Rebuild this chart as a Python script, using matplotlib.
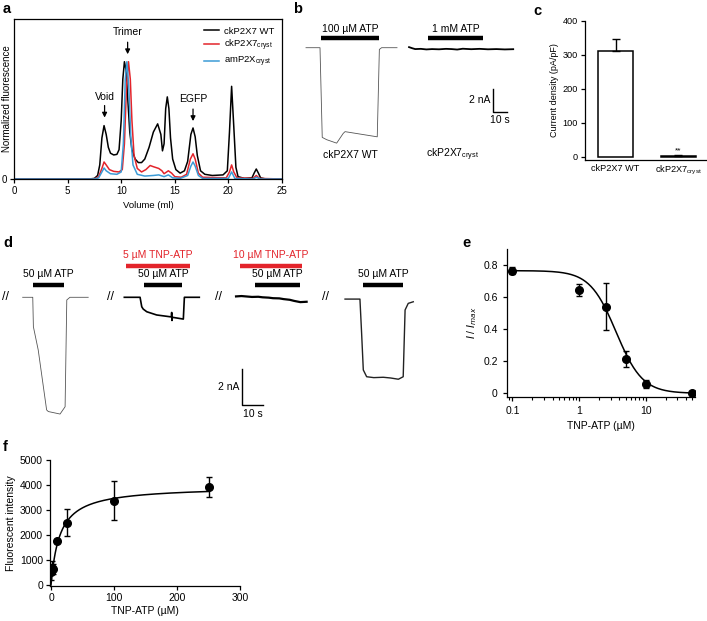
import numpy as np
import matplotlib
matplotlib.use('Agg')
from matplotlib import pyplot as plt

plt.rcParams['font.family'] = ['Liberation Sans', 'DejaVu Sans']
plt.rcParams['font.size'] = 7.5
plt.rcParams['axes.linewidth'] = 0.9
plt.rcParams['xtick.major.width'] = 0.9
plt.rcParams['ytick.major.width'] = 0.9
plt.rcParams['xtick.major.size'] = 3
plt.rcParams['ytick.major.size'] = 3
plt.rcParams['mathtext.default'] = 'regular'

RED = '#e3242b'
BLUE = '#3c9bd6'
MU = '\u00b5'

# ---- a: size exclusion profiles (volume in ml, normalized fluorescence)
wt_vol = [0, 7.0, 7.5, 7.8, 8.0, 8.2, 8.4, 8.6, 8.8, 9.0, 9.3, 9.6, 9.8, 10.0, 10.15, 10.3,
          10.45, 10.6, 10.8, 11.0, 11.3, 11.6, 11.9, 12.2, 12.6, 13.0, 13.4, 13.7, 13.85,
          14.0, 14.15, 14.3, 14.45, 14.6, 14.8, 15.1, 15.5, 15.9, 16.2, 16.5, 16.7, 16.9,
          17.1, 17.4, 17.8, 18.5, 19.5, 19.9, 20.1, 20.3, 20.5, 20.7, 20.9, 21.5, 22.2,
          22.4, 22.6, 22.8, 23.0, 23.5, 25]
wt_val = [0, 0, 0.005, 0.03, 0.12, 0.35, 0.455, 0.38, 0.27, 0.22, 0.205, 0.21, 0.25, 0.5,
          0.85, 1.0, 0.93, 0.7, 0.4, 0.25, 0.17, 0.14, 0.14, 0.17, 0.27, 0.4, 0.47, 0.38,
          0.24, 0.3, 0.6, 0.70, 0.6, 0.35, 0.17, 0.08, 0.05, 0.07, 0.15, 0.38, 0.435, 0.36,
          0.2, 0.07, 0.04, 0.03, 0.035, 0.07, 0.4, 0.79, 0.45, 0.1, 0.02, 0.005, 0.01,
          0.05, 0.085, 0.05, 0.01, 0, 0]
ck_vol = [0, 7.5, 7.9, 8.2, 8.4, 8.6, 8.9, 9.3, 9.8, 10.1, 10.3, 10.5, 10.68, 10.85, 11.0,
          11.2, 11.5, 11.9, 12.3, 12.7, 13.0, 13.5, 13.8, 14.0, 14.4, 14.7, 15.0, 15.6,
          16.1, 16.45, 16.7, 16.9, 17.2, 17.6, 19.8, 20.1, 20.3, 20.5, 20.8, 22.3, 22.6,
          22.9, 25]
ck_val = [0, 0, 0.02, 0.09, 0.145, 0.12, 0.08, 0.065, 0.06, 0.08, 0.3, 0.8, 1.0, 0.85,
          0.5, 0.2, 0.09, 0.06, 0.08, 0.115, 0.105, 0.09, 0.07, 0.045, 0.07, 0.05, 0.02,
          0.015, 0.04, 0.17, 0.215, 0.17, 0.05, 0.015, 0.01, 0.06, 0.12, 0.06, 0.01, 0.005,
          0.03, 0.005, 0]
am_vol = [0, 7.5, 7.9, 8.2, 8.4, 8.6, 9.0, 9.6, 10.0, 10.2, 10.38, 10.53, 10.7, 10.9,
          11.1, 11.5, 12.2, 13.0, 13.5, 14.0, 14.4, 14.8, 15.5, 16.2, 16.5, 16.7, 16.9,
          17.2, 17.6, 20.0, 20.3, 20.6, 22.3, 22.6, 23.0, 25]
am_val = [0, 0, 0.01, 0.06, 0.094, 0.07, 0.045, 0.04, 0.06, 0.3, 0.85, 1.0, 0.8, 0.35,
          0.12, 0.04, 0.025, 0.03, 0.035, 0.02, 0.035, 0.01, 0.005, 0.03, 0.11, 0.145,
          0.11, 0.03, 0.005, 0.005, 0.06, 0.005, 0.0, 0.015, 0, 0]

# ---- b: currents (time in s, current in nA)
b_wt_t = [0, 10.0, 11.6, 14.8, 21.9, 26.6, 27.9, 50.9, 52.4, 54.0, 65.0]
b_wt_i = [0, 0, -7.8, -8.0, -8.3, -7.45, -7.3, -7.75, -0.15, 0, 0]
b_cr_t = [73.6, 76, 78, 82, 86, 90, 95, 100, 104, 108, 112, 118, 124, 130, 136, 142, 148]
b_cr_i = [0.05, -0.05, -0.12, -0.1, -0.15, -0.12, -0.14, -0.1, -0.12, -0.16, -0.09,
          -0.13, -0.1, -0.14, -0.12, -0.15, -0.13]

# ---- c: current density (pA/pF)
c_names = ['ckP2X7 WT', 'ckP2X7$_{cryst}$']
c_mean = [310, 3]
c_err = [37, 2]

# ---- d: TNP-ATP block traces (time in s, current in nA)
d1_t = [10.8, 15.6, 15.9, 18.2, 22.2, 23.0, 27.0, 28.6, 31.0, 31.8, 33.3, 42.0]
d1_i = [0, 0, -1.65, -2.95, -6.31, -6.4, -6.5, -6.54, -6.13, -0.15, 0, 0]
d2_t = [59.2, 66.7, 67.5, 68.2, 69.9, 74.6, 81.0, 81.6, 81.75, 81.9, 82.1, 87.3, 87.8, 94.9]
d2_i = [0, 0, -0.53, -0.66, -0.81, -0.99, -1.09, -1.1, -0.85, -1.3, -1.12, -1.22, 0, 0]
d3_t = [112.4, 115, 118, 120, 123, 125, 128, 130, 133, 135, 138, 140, 143, 146]
d3_i = [0.05, 0.07, 0.04, 0.02, 0.03, 0.0, -0.02, -0.05, -0.06, -0.1, -0.14, -0.2, -0.27, -0.25]
d4_t = [164.3, 171.4, 172.2, 173.0, 174.6, 178, 182.5, 186, 189.7, 192.0, 192.9, 194.4, 196.8]
d4_i = [-0.1, -0.1, -2.02, -4.07, -4.45, -4.5, -4.48, -4.52, -4.59, -4.45, -0.71, -0.34, -0.25]

# ---- e: inhibition by TNP-ATP
e_conc = [0.1, 1, 2.5, 5, 10, 50]
e_resp = [0.765, 0.645, 0.54, 0.215, 0.057, 0.003]
e_err = [0.02, 0.035, 0.145, 0.05, 0.025, 0.01]
e_top, e_ic50, e_hill = 0.765, 3.6, 2.2

# ---- f: TNP-ATP binding
f_conc = [0, 1, 2.5, 10, 25, 100, 250]
f_int = [520, 700, 650, 1750, 2500, 3380, 3920]
f_err = [300, 250, 200, 80, 530, 775, 400]
f_bmax, f_kd = 3950, 14

W, H = 707, 621
fig = plt.figure(figsize=(W / 100, H / 100), dpi=100)


def px_axes(left, top, right, bottom):
    return fig.add_axes([left / W, 1 - bottom / H, (right - left) / W, (bottom - top) / H])


def trace_axes(left, top, right, bottom, x0, y0, px_s, px_na):
    # axes whose data units are seconds and nA, origin at figure pixel (x0, y0)
    ax = px_axes(left, top, right, bottom)
    ax.set_xlim((left - x0) / px_s, (right - x0) / px_s)
    ax.set_ylim(-(bottom - y0) / px_na, (y0 - top) / px_na)
    ax.axis('off')
    return ax


def drug_bar(ax, t0, t1, y, label, color='black', ly=None):
    ax.plot([t0, t1], [y, y], color=color, lw=3.2, solid_capstyle='butt')
    ax.text((t0 + t1) / 2, ly, label, color=color, ha='center', va='center')


def scale_bar(ax, t, i, dt, di):
    ax.plot([t, t, t + dt], [i + di, i, i], color='black', lw=1.0)
    ax.text(t - 1.5 * dt / 10, i + di / 2, '2 nA', ha='right', va='center')
    ax.text(t + dt / 2, i - di * 0.12, '10 s', ha='center', va='top')


# ---------------- a
ax = px_axes(14, 19, 282, 179)
ax.plot(wt_vol, wt_val, color='black', lw=1.1, label='ckP2X7 WT')
ax.plot(ck_vol, ck_val, color=RED, lw=1.1, label='ckP2X7$_{cryst}$')
ax.plot(am_vol, am_val, color=BLUE, lw=1.1, label='amP2X$_{cryst}$')
ax.set_xlim(0, 25)
ax.set_ylim(0, 1.364)
ax.set_xticks([0, 5, 10, 15, 20, 25])
ax.set_yticks([0])
ax.tick_params(labelsize=7, pad=2)
ax.set_xlabel('Volume (ml)', fontsize=6.8, labelpad=4)
ax.set_ylabel('Normalized fluorescence', fontsize=7)
ax.yaxis.set_label_coords(-0.008, 0.5)
ax.legend(loc='upper right', frameon=False, handlelength=1.6, handletextpad=0.5,
          labelspacing=0.25, borderaxespad=0.4, fontsize=6.8)
for x, y_txt, y0, y1, lab in [(8.45, 0.70, 0.65, 0.50, 'Void'),
                               (10.6, 1.255, 1.19, 1.04, 'Trimer'),
                               (16.7, 0.685, 0.62, 0.47, 'EGFP')]:
    ax.annotate('', xy=(x, y1), xytext=(x, y0),
                arrowprops=dict(arrowstyle='-|>', color='black', lw=0.9, mutation_scale=7))
    ax.text(x, y_txt, lab, ha='center', va='center')

# ---------------- b
ax = trace_axes(298, 25, 530, 170, 306, 47.7, 1.4, 11.5)
ax.plot(b_wt_t, b_wt_i, color='#555555', lw=0.6)
ax.plot(b_cr_t, b_cr_i, color='black', lw=1.3)
drug_bar(ax, 10.5, 52.1, 0.84, '100 ' + MU + 'M ATP', ly=1.65)
drug_bar(ax, 87.1, 126.4, 0.84, '1 mM ATP', ly=1.65)
scale_bar(ax, 133.4, -5.59, 10, 2)
ax.text(31.4, -9.33, 'ckP2X7 WT', ha='center', va='center')
ax.text(105, -9.33, 'ckP2X7$_{cryst}$', ha='center', va='center')

# ---------------- c
ax = px_axes(585, 20.7, 707, 160)
pos = np.arange(len(c_names))
ax.bar(pos, c_mean, width=0.56, color='white', edgecolor='black', lw=1.1)
ax.errorbar(pos, c_mean, yerr=[[0, 0], c_err], fmt='none', ecolor='black',
            elinewidth=1.0, capsize=3, capthick=1.0)
ax.text(pos[1], c_mean[1] + c_err[1] + 3, '**', ha='center', va='bottom', fontsize=6)
ax.set_xlim(-0.49, 1.46)
ax.set_ylim(-9.7, 400)
ax.set_yticks([0, 100, 200, 300, 400])
ax.set_xticks(pos)
ax.set_xticklabels(c_names)
ax.tick_params(labelsize=6.6, pad=2)
ax.tick_params(axis='x', length=0, pad=3)
ax.spines[['top', 'right']].set_visible(False)
ax.set_ylabel('Current density (pA/pF)', fontsize=6.5, labelpad=3)

# ---------------- d
ax = trace_axes(0, 245, 460, 430, 0, 297.3, 2.1, 17.85)
ax.plot(d1_t, d1_i, color='#555555', lw=0.6)
ax.plot(d2_t, d2_i, color='black', lw=1.2)
ax.plot(d3_t, d3_i, color='black', lw=1.6)
ax.plot(d4_t, d4_i, color='#222222', lw=1.0)
for t in [2.4, 52.4, 104.0, 154.8]:
    ax.text(t, 0.0, '//', ha='center', va='center', fontsize=9)
drug_bar(ax, 15.9, 30.5, 0.71, '50 ' + MU + 'M ATP', ly=1.3)
drug_bar(ax, 60.0, 90.5, 1.77, '5 ' + MU + 'M TNP-ATP', color=RED, ly=2.35)
drug_bar(ax, 68.6, 86.5, 0.71, '50 ' + MU + 'M ATP', ly=1.3)
drug_bar(ax, 114.3, 143.7, 1.77, '10 ' + MU + 'M TNP-ATP', color=RED, ly=2.35)
drug_bar(ax, 121.4, 142.9, 0.71, '50 ' + MU + 'M ATP', ly=1.3)
drug_bar(ax, 173.0, 192.0, 0.71, '50 ' + MU + 'M ATP', ly=1.3)
scale_bar(ax, 115.4, -6.03, 10, 2)

# ---------------- e
ax = px_axes(506.7, 249, 695, 396.7)
xfit = np.logspace(-1, np.log10(50), 200)
ax.plot(xfit, e_top / (1 + (xfit / e_ic50) ** e_hill), color='black', lw=1.1)
ax.errorbar(e_conc, e_resp, yerr=e_err, fmt='o', color='black', ms=5.5,
            elinewidth=1.0, capsize=2, capthick=1.0)
ax.set_xscale('log')
ax.set_xlim(0.082, 55)
ax.set_ylim(-0.021, 0.9)
ax.set_xticks([0.1, 1, 10])
ax.set_xticklabels(['0.1', '1', '10'])
ax.set_yticks([0, 0.2, 0.4, 0.6, 0.8])
ax.set_yticklabels(['0', '0.2', '0.4', '0.6', '0.8'])
ax.tick_params(axis='x', which='minor', length=1.8, width=0.8)
ax.spines[['top', 'right']].set_visible(False)
ax.set_xlabel('TNP-ATP (' + MU + 'M)', labelpad=4)
ax.set_ylabel(r'$\it{I}$ / $\it{I}_{max}$', labelpad=3)

# ---------------- f
ax = px_axes(50, 460, 240, 586)
xfit = np.linspace(0, 250, 300)
ax.plot(xfit, f_bmax * xfit / (f_kd + xfit), color='black', lw=1.1)
ax.errorbar(f_conc, f_int, yerr=f_err, fmt='o', color='black', ms=5.5,
            elinewidth=1.0, capsize=2, capthick=1.0)
ax.set_xlim(-1.6, 300)
ax.set_ylim(-40, 5000)
ax.set_xticks([0, 100, 200, 300])
ax.set_yticks([0, 1000, 2000, 3000, 4000, 5000])
ax.tick_params(pad=2)
ax.spines[['top', 'right']].set_visible(False)
ax.set_xlabel('TNP-ATP (' + MU + 'M)', labelpad=2)
ax.set_ylabel('Fluorescent intensity', labelpad=3)

# panel letters
for x, y, s in [(3, 9, 'a'), (293, 9, 'b'), (533, 11, 'c'), (3, 243, 'd'),
                (462, 243, 'e'), (3, 447, 'f')]:
    fig.text(x / W, 1 - y / H, s, fontsize=10.5, fontweight='bold', va='center')

fig.savefig('out.png', dpi=100)
